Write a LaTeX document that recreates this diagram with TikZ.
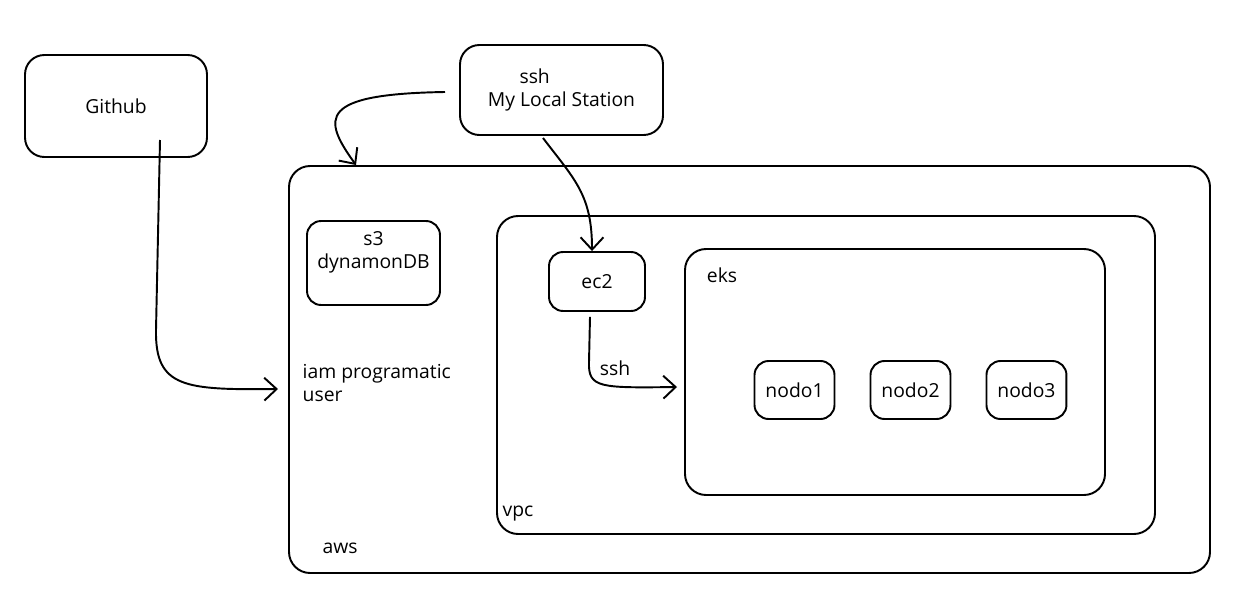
\documentclass[tikz,border=0pt]{standalone}
\usepackage{fontspec}
\setmainfont{Open Sans}
\usetikzlibrary{positioning,fit,arrows.meta}

\begin{document}
\begin{tikzpicture}[x=0.02cm,y=-0.02cm,line width=1.1pt,node distance=2.32cm,on grid,
	font=\fontsize{11}{13}\selectfont,
	box/.style={draw,rounded corners=8pt,align=center},
	bigbox/.style={box,rounded corners=11pt},
	frame/.style={draw,rounded corners=12pt,inner sep=0pt},
	tag/.style={inner sep=1pt,align=left},
	conn/.style={-{Straight Barb[length=7pt,width=13pt]}}]
	\useasboundingbox (0,0) rectangle (1253,595);

	% frames
	\node[frame,fit={(289,166) (1210,573)}] (aws) {};
	\node[frame,fit={(497,216) (1155,534)}] (vpc) {};
	\node[frame,fit={(685,249) (1105,495)}] (eks) {};
	\node[tag] (aws label) at (340,548) {aws};
	\node[tag] (vpc label) at (518,514) {vpc};
	\node[tag] (eks label) at (722,275) {eks};

	\node[bigbox,minimum width=3.64cm,minimum height=2.04cm] (github) at (116,106) {Github};
	\node[bigbox,minimum width=4.06cm,minimum height=1.8cm,align=left] (station) at (561.5,90) {\hspace*{18pt}ssh\\My Local Station};

	\node[box,minimum width=2.66cm,minimum height=1.68cm] (s3) at (373.5,263) {};
	\node[tag,align=center] (s3 text) at (373.5,252) {s3\\dynamonDB};
	\node[tag,anchor=west] (iam) at (300,383) {iam programatic\\user};

	\node[box,minimum width=1.92cm,minimum height=1.18cm] (ec2) at (597,281.5) {ec2};
	\node[box,minimum width=1.6cm,minimum height=1.16cm] (nodo1) at (794.5,390) {nodo1};
	\node[box,minimum width=1.6cm,minimum height=1.16cm] (nodo2) [right=of nodo1] {nodo2};
	\node[box,minimum width=1.6cm,minimum height=1.16cm] (nodo3) [right=of nodo2] {nodo3};

	\coordinate (gh out) at (160,140);
	\coordinate (aws in) at (278,389);
	\coordinate (st out) at (445,92);
	\coordinate (st down) at (543,138);
	\coordinate (eks in) at (677,387);

	\draw[conn] (gh out) -- (156,330) .. controls (155,388) and (185,390) .. (aws in);
	\draw[conn] (st out) .. controls (318,94) and (322,118) .. ([xshift=1.36cm]aws.north west);
	\draw[conn] (st down) .. controls (575,180) and (592,195) .. ([xshift=-0.1cm]ec2.north);
	\draw[conn] ([xshift=-0.14cm,yshift=-0.1cm]ec2.south) -- (589,362) .. controls (588,388) and (600,388) .. (eks in);
	\node[tag] (ssh label) at (615,368) {ssh};

\end{tikzpicture}
\end{document}
